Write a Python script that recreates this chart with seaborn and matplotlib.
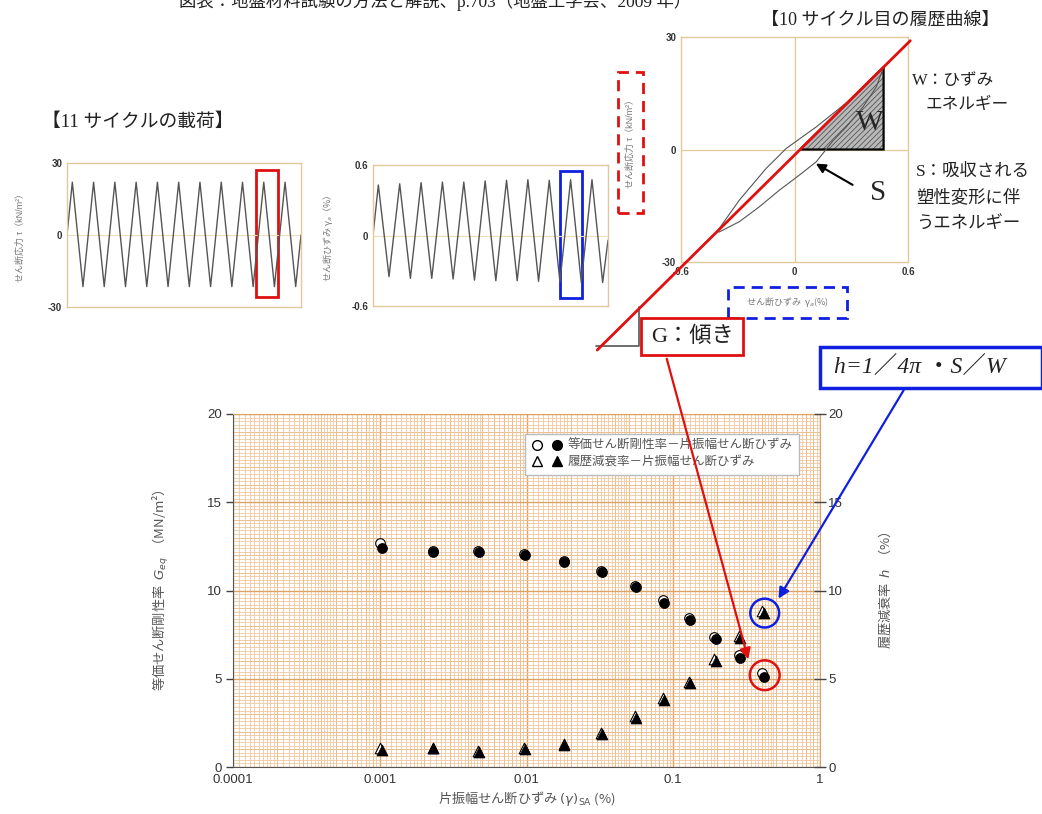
import matplotlib
matplotlib.use("Agg")
import matplotlib.pyplot as plt
import numpy as np
import seaborn as sns
from matplotlib.legend_handler import HandlerTuple
from matplotlib.lines import Line2D
from matplotlib.patches import FancyArrowPatch, Polygon, Rectangle
from matplotlib.ticker import NullFormatter

FIG_W, FIG_H = 1042, 814

# 11-cycle loading record, turning points only
cycle_time = [0.0, 0.25, 0.75, 1.25, 1.75, 2.25, 2.75, 3.25, 3.75, 4.25, 4.75, 5.25, 5.75,
              6.25, 6.75, 7.25, 7.75, 8.25, 8.75, 9.25, 9.75, 10.25, 10.75, 11.0]
stress_record = [0, 22, -21.5, 22, -21.5, 22, -21.5, 22, -21.5, 22, -21.5, 22, -21.5,
                 22, -21.5, 22, -21.5, 22, -21.5, 22, -21.5, 22, -21.5, 0]
strain_record = [0, 0.43, -0.35, 0.44, -0.365, 0.45, -0.365, 0.455, -0.37, 0.455, -0.38, 0.465, -0.385,
                 0.47, -0.385, 0.475, -0.39, 0.47, -0.395, 0.475, -0.40, 0.475, -0.40, -0.04]

# 10th-cycle hysteresis loop (strain %, stress kN/m2), upper branch then lower branch
loop_strain = [-0.411, -0.291, -0.150, -0.044, 0.115, 0.291, 0.379, 0.471,
               0.432, 0.362, 0.274, 0.203, 0.115, 0.026, -0.079, -0.185, -0.291, -0.397, -0.411]
loop_stress = [-21.98, -13.47, -5.05, 0.27, 6.03, 13.12, 17.55, 21.98,
               16.66, 11.34, 6.03, 2.30, -3.28, -6.82, -10.81, -15.24, -19.23, -21.98, -21.98]

# main chart: single amplitude shear strain vs G_eq and h
strain_sa = [0.00104, 0.00232, 0.00475, 0.00977, 0.0181, 0.0327, 0.0557, 0.0865, 0.130, 0.1945, 0.285, 0.417]
geq = [12.43, 12.20, 12.18, 11.99, 11.63, 11.05, 10.20, 9.31, 8.33, 7.25, 6.19, 5.12]
damping = [0.96, 1.06, 0.86, 1.02, 1.25, 1.87, 2.78, 3.80, 4.74, 6.00, 7.29, 8.71]
strain_sa_open = [0.00100, 0.00230, 0.00470, 0.00965, 0.0179, 0.0323, 0.0550, 0.0852, 0.128, 0.191, 0.279, 0.404]
geq_open = [12.71, 12.26, 12.24, 12.05, 11.69, 11.12, 10.28, 9.46, 8.44, 7.38, 6.35, 5.34]
damping_open = [1.09, 1.10, 0.90, 1.06, 1.30, 1.95, 2.90, 3.90, 4.82, 6.10, 7.40, 8.82]

x_ticks = [0.0001, 0.001, 0.01, 0.1, 1]
x_tick_labels = ["0.0001", "0.001", "0.01", "0.1", "1"]
y_ticks = [0, 5, 10, 15, 20]

sns.set_style("white")
plt.rcParams["font.family"] = ["Liberation Sans", "Noto Sans CJK JP"]
plt.rcParams["axes.unicode_minus"] = False
plt.rcParams["hatch.linewidth"] = 0.5
SERIF = ["Liberation Serif", "Noto Sans CJK JP"]
CJK = "Noto Sans CJK JP"
TAN = "#e3c99a"
GRID_MINOR = "#f0c496"
GRID_MAJOR = "#dea262"

fig = plt.figure(figsize=(FIG_W / 100, FIG_H / 100), dpi=100)


def fpos(px, py):
    return px / FIG_W, 1 - py / FIG_H


def axes_px(left, top, right, bottom):
    return fig.add_axes([left / FIG_W, 1 - bottom / FIG_H, (right - left) / FIG_W, (bottom - top) / FIG_H])


def style_small(ax):
    for s in ax.spines.values():
        s.set_color(TAN)
        s.set_linewidth(1.0)
    ax.tick_params(labelsize=7, labelcolor="#333", colors="#888", length=2, direction="in")
    for lab in ax.get_yticklabels() + ax.get_xticklabels():
        lab.set_fontweight("bold")


# ---- time series: stress ----
ax1 = axes_px(67, 163, 301, 307)
ax1.axhline(0, color="#eddcb8", lw=0.8)
sns.lineplot(x=cycle_time, y=stress_record, ax=ax1, color="#555555", lw=1.0, sort=False, estimator=None)
ax1.set_xlim(0, 11)
ax1.set_ylim(-30, 30)
ax1.set_xticks([])
ax1.set_yticks([-30, 0, 30])
ax1.set_yticks([-20, 20], minor=True)
style_small(ax1)
ax1.add_patch(Rectangle((8.89, -25.8), 1.03, 52.9, fill=False, edgecolor="#e01010", lw=2))
fig.text(*fpos(20, 236), "せん断応力 τ（kN/m²）", rotation=90, ha="center", va="center",
         fontsize=6.5, color="#777")

# ---- time series: strain ----
ax2s = axes_px(373, 165, 608, 306)
ax2s.axhline(0, color="#eddcb8", lw=0.8)
sns.lineplot(x=cycle_time, y=strain_record, ax=ax2s, color="#555555", lw=1.0, sort=False, estimator=None)
ax2s.set_xlim(0, 11)
ax2s.set_ylim(-0.6, 0.6)
ax2s.set_xticks([])
ax2s.set_yticks([-0.6, 0, 0.6], ["-0.6", "0", "0.6"])
ax2s.set_yticks([-0.4, -0.2, 0.2, 0.4], minor=True)
style_small(ax2s)
ax2s.add_patch(Rectangle((8.76, -0.528), 1.04, 1.079, fill=False, edgecolor="#1020e0", lw=2))
fig.text(*fpos(328, 238), "せん断ひずみ γ$_a$（%）", rotation=90, ha="center", va="center",
         fontsize=6.5, color="#777", family=CJK)

# ---- hysteresis loop ----
axh = axes_px(681, 37, 908, 262)
axh.axhline(0, color=TAN, lw=0.9)
axh.axvline(0, color=TAN, lw=0.9)
peak_i = int(np.argmax(loop_stress))
tip_i = int(np.argmin(loop_stress))
px_, py_ = loop_strain[peak_i], loop_stress[peak_i]
lx_, ly_ = loop_strain[tip_i], loop_stress[tip_i]
slope = (py_ - ly_) / (px_ - lx_)
x0 = px_ - py_ / slope
tri = [(x0, 0), (px_, 0), (px_, py_)]
axh.add_patch(Polygon(tri, closed=True, facecolor="#b8b8b8", hatch="//////", edgecolor="#444", lw=0, zorder=2))
axh.add_patch(Polygon(tri, closed=True, fill=False, edgecolor="black", lw=1.6, zorder=3))
sns.lineplot(x=loop_strain, y=loop_stress, ax=axh, color="#555555", lw=0.8, sort=False, estimator=None, zorder=4)
x_end = [-1.043, 0.612]
axh.plot(x_end, [py_ + slope * (v - px_) for v in x_end], color="#e01010", lw=2, clip_on=False, zorder=6)
axh.plot([-1.05, -0.82, -0.82], [-52.5, -52.5, -42.0], color="#555", lw=1.2, clip_on=False, zorder=5)
axh.set_xlim(-0.6, 0.6)
axh.set_ylim(-30, 30)
axh.set_xticks([-0.6, 0, 0.6], ["-0.6", "0", "0.6"])
axh.set_yticks([-30, 0, 30])
axh.set_xticks([-0.4, -0.2, 0.2, 0.4], minor=True)
axh.set_yticks([-20, -10, 10, 20], minor=True)
style_small(axh)
axh.tick_params(which="minor", length=3, colors="#888")
axh.text(0.40, 7.0, "W", fontsize=21, family=SERIF, ha="center", va="center", zorder=7)
axh.text(0.44, -11.5, "S", fontsize=21, family=SERIF, ha="center", va="center")
axh.annotate("", xy=(0.10, -3.4), xytext=(0.32, -9.8),
             arrowprops=dict(arrowstyle="-|>", color="black", lw=1.5, mutation_scale=14))

fig.text(*fpos(630, 142), "せん断応力 τ（kN/m²）", rotation=90, ha="center", va="center",
         fontsize=6.5, color="#777")
fig.add_artist(Rectangle(fpos(618, 213), 25 / FIG_W, 141 / FIG_H, transform=fig.transFigure,
                         fill=False, edgecolor="#e01010", lw=2, linestyle=(0, (4, 2.5))))
fig.text(*fpos(787, 302), "せん断ひずみ  γ$_a$(%)", ha="center", va="center", fontsize=6.5,
         color="#777", family=CJK)
fig.add_artist(Rectangle(fpos(728, 318), 119 / FIG_W, 31 / FIG_H, transform=fig.transFigure,
                         fill=False, edgecolor="#1020e0", lw=2, linestyle=(0, (4, 2.5))))

# ---- header texts ----
fig.text(*fpos(435, 1), "図表：地盤材料試験の方法と解説、p.703（地盤工学会、2009 年）", ha="center", va="center",
         fontsize=12.5, family=SERIF, color="#222")
fig.text(*fpos(880, 20), "【10 サイクル目の履歴曲線】", ha="center", va="center", fontsize=13,
         family=SERIF, color="#222")
fig.text(*fpos(42, 122), "【11 サイクルの載荷】", ha="left", va="center", fontsize=13.5,
         family=SERIF, color="#222")
fig.text(*fpos(912, 81), "W：ひずみ", ha="left", va="center", fontsize=12, family=SERIF, color="#222")
fig.text(*fpos(926, 105), "エネルギー", ha="left", va="center", fontsize=12, family=SERIF, color="#222")
for line, y in zip(["S：吸収される", "塑性変形に伴", "うエネルギー"], [172, 198, 224]):
    fig.text(*fpos(916, y), line, ha="left", va="center", fontsize=12.5, family=SERIF, color="#222")

fig.add_artist(Rectangle(fpos(641, 355), 102 / FIG_W, 37 / FIG_H, transform=fig.transFigure,
                         facecolor="white", edgecolor="#e01010", lw=2, zorder=4))
fig.text(*fpos(692, 337), "G：傾き", ha="center", va="center", fontsize=16, family=SERIF,
         color="#222", zorder=5)
fig.add_artist(Rectangle(fpos(820, 388), 222 / FIG_W, 41 / FIG_H, transform=fig.transFigure,
                         facecolor="white", edgecolor="#1020e0", lw=2.5, zorder=4))
fig.text(*fpos(920, 368), "h=1／4π ・S／W", ha="center", va="center", fontsize=17, family=SERIF,
         style="italic", color="#222", zorder=5)

# ---- main chart ----
ax = axes_px(233, 414, 820, 767)
ax.set_xscale("log")
ax.set_xlim(1e-4, 1)
ax.set_ylim(0, 20)
mults = np.concatenate([np.linspace(1.1, 1.9, 9), np.linspace(2.0, 4.8, 15), np.linspace(5.0, 9.5, 10)])
minor_x = [d * m for d in x_ticks[:-1] for m in mults]
ax.set_xticks(minor_x, minor=True)
ax.set_yticks(np.linspace(0, 20, 101), minor=True)
ax.set_xticks(x_ticks, x_tick_labels)
ax.set_yticks(y_ticks)
ax.xaxis.set_minor_formatter(NullFormatter())
ax.yaxis.set_minor_formatter(NullFormatter())
ax.grid(which="minor", color=GRID_MINOR, lw=0.55)
ax.grid(which="major", color=GRID_MAJOR, lw=1.0)
for d in x_ticks[:-1]:
    for m in range(2, 10):
        ax.axvline(d * m, color=GRID_MAJOR, lw=0.7, zorder=0.5)
for v in range(1, 20):
    ax.axhline(v, color=GRID_MAJOR, lw=0.6, zorder=0.5)
ax.set_axisbelow(True)
for s in ax.spines.values():
    s.set_color(GRID_MAJOR)
ax.spines["left"].set_color("#555")
ax.spines["bottom"].set_color("#555")
ax.tick_params(which="minor", length=0)
ax.tick_params(axis="y", which="major", direction="out", length=5, width=1, color="#444",
               labelsize=9.5, labelcolor="#333", pad=3)
ax.tick_params(axis="x", which="major", direction="in", length=5, width=1, color="#444",
               labelsize=9.5, labelcolor="#333", pad=5)

sns.scatterplot(x=strain_sa_open, y=geq_open, ax=ax, marker="o", s=48, color="white",
                edgecolor="black", linewidth=0.8, zorder=3)
sns.scatterplot(x=strain_sa, y=geq, ax=ax, marker="o", s=52, color="black",
                edgecolor="black", linewidth=0.5, zorder=4)
ax.set_ylabel("等価せん断剛性率  $G_{eq}$  （MN/m²）", fontsize=9.5, color="#555", labelpad=26, family=CJK)
ax.set_xlabel("片振幅せん断ひずみ $(\\gamma)_{\\mathrm{SA}}$ (%)", fontsize=9.5, color="#555",
              labelpad=2, family=CJK)

axr = ax.twinx()
axr.set_ylim(0, 20)
axr.set_yticks(y_ticks)
for s in axr.spines.values():
    s.set_visible(False)
axr.tick_params(axis="y", direction="inout", length=8, width=1, color="#444",
                labelsize=9.5, labelcolor="#333", pad=2)
sns.scatterplot(x=strain_sa_open, y=damping_open, ax=axr, marker="^", s=58, color="white",
                edgecolor="black", linewidth=0.8, zorder=3)
sns.scatterplot(x=strain_sa, y=damping, ax=axr, marker="^", s=62, color="black",
                edgecolor="black", linewidth=0.5, zorder=4)
axr.set_ylabel("履歴減衰率  $h$  （%）", fontsize=9.5, color="#555", labelpad=24, rotation=90, family=CJK)

# highlight circles around last points
axr.scatter([0.42], [8.72], s=430, facecolors="none", edgecolors="#1020e0", linewidths=1.8, zorder=5)
ax.scatter([0.42], [5.2], s=460, facecolors="none", edgecolors="#e01010", linewidths=1.8, zorder=5)

h_open = Line2D([], [], marker="o", ls="", mfc="white", mec="black", ms=7)
h_fill = Line2D([], [], marker="o", ls="", mfc="black", mec="black", ms=7)
t_open = Line2D([], [], marker="^", ls="", mfc="white", mec="black", ms=7.5)
t_fill = Line2D([], [], marker="^", ls="", mfc="black", mec="black", ms=7.5)
leg = axr.legend([(h_open, h_fill), (t_open, t_fill)],
                 ["等価せん断剛性率－片振幅せん断ひずみ", "履歴減衰率－片振幅せん断ひずみ"],
                 handler_map={tuple: HandlerTuple(ndivide=None, pad=0.8)}, loc="upper right",
                 bbox_to_anchor=(0.975, 0.962), fontsize=9, frameon=True, fancybox=False,
                 edgecolor="#bbbbbb", framealpha=1, handlelength=2.4, handletextpad=0.5,
                 labelspacing=0.35, borderpad=0.5)
for t in leg.get_texts():
    t.set_color("#555")

# ---- connecting arrows ----
fig.add_artist(FancyArrowPatch(fpos(666, 356), fpos(749, 662), transform=fig.transFigure,
                               arrowstyle="-|>", mutation_scale=16, color="#e01010", lw=1.6, zorder=6))
fig.add_artist(FancyArrowPatch(fpos(905, 388), fpos(777, 601), transform=fig.transFigure,
                               arrowstyle="-|>", mutation_scale=16, color="#1020e0", lw=1.6, zorder=6))

fig.savefig("out.png", dpi=100)
